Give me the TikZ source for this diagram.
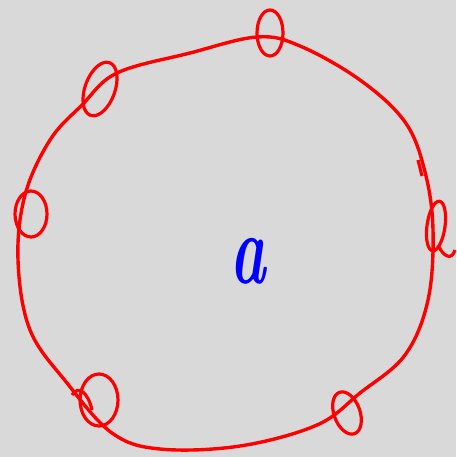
\documentclass[tikz,border=0pt]{standalone}
\usepackage{tikz}

\tikzset{
  ring/.style={draw=red, line width=3.4pt, line cap=round, line join=round},
  curl/.style={draw=red, line width=3.2pt}
}

\begin{document}
\begin{tikzpicture}[x=1pt, y=-1pt]
    \fill[gray!30] (0,0) rectangle (456,457);
    \useasboundingbox (0,0) rectangle (456,457);
    % the hand-drawn ring
    \draw[ring] plot[smooth cycle, tension=0.6] coordinates {
      (117,73) (190,53) (257,37) (300,46) (360,80) (405,122) (425,172)
      (433,230) (428,300) (405,355) (360,393) (317,425) (240,446)
      (160,449) (112,433) (67,383) (30,330) (18,260) (25,195) (50,140)
      (82,105)};
    % the six curls
    \draw[curl] (270,33) ellipse [x radius=13, y radius=23];
    \draw[curl, rotate around={-20:(100,89)}] (100,89) ellipse [x radius=15, y radius=28];
    \draw[curl] (31,214) ellipse [x radius=16, y radius=23];
    \draw[curl, rotate around={-8:(436,226)}] (436,226) ellipse [x radius=9, y radius=25];
    \draw[curl, rotate around={20:(347,413)}] (347,413) ellipse [x radius=13, y radius=22];
    \draw[curl] (99,400) ellipse [x radius=19, y radius=26];
    % stray strokes
    \draw[curl] (418,160) -- (422,176);
    \draw[curl] (438,245) .. controls (444,258) and (452,260) .. (455,250);
    \draw[curl] (72,395) .. controls (78,385) and (88,392) .. (92,410);
    % the letter
    \node[text=blue, font=\fontsize{100}{100}\selectfont\bfseries\itshape, xscale=0.6] (letter) at (248,261) {a};
\end{tikzpicture}
\end{document}
